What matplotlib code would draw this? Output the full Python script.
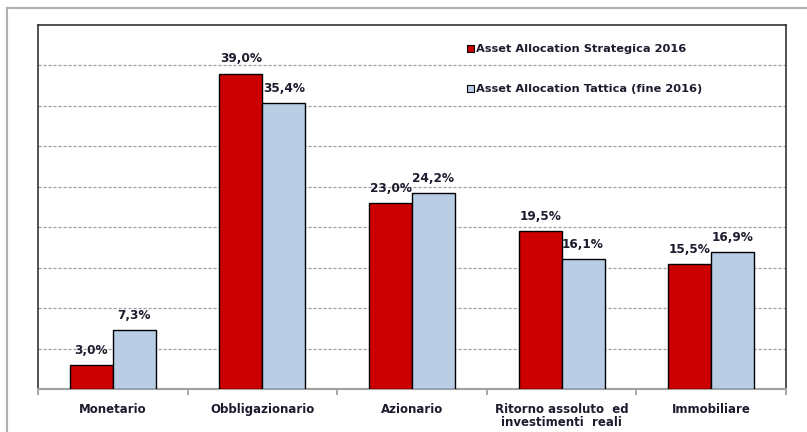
import matplotlib
matplotlib.use("Agg")
import matplotlib.pyplot as plt
from matplotlib.lines import Line2D
from matplotlib.patches import Patch
import numpy as np

categories = ["Monetario", "Obbligazionario", "Azionario",
              "Ritorno assoluto  ed\ninvestimenti  reali", "Immobiliare"]
strategica = [3.0, 39.0, 23.0, 19.5, 15.5]
tattica = [7.3, 35.4, 24.2, 16.1, 16.9]
series_names = ["Asset Allocation Strategica 2016", "Asset Allocation Tattica (fine 2016)"]

red = "#CC0000"
blue = "#B9CDE5"
txt = "#1c1c2e"
font = "DejaVu Sans"

fig = plt.figure(figsize=(8.07, 4.32), dpi=100)
ax = fig.add_axes([38/807, 1-389/432, (786-38)/807, (389-25)/432])

x = np.arange(len(categories))
w = 0.287
ax.bar(x - w/2, strategica, w, color=red, edgecolor="black", linewidth=1.0, zorder=3)
ax.bar(x + w/2, tattica, w, color=blue, edgecolor="black", linewidth=1.0, zorder=3)

def fmt(v):
    return f"{v:.1f}".replace(".", ",") + "%"

for xi, v in zip(x, strategica):
    ax.text(xi - w/2, v + 1.0, fmt(v), ha="center", va="bottom", fontsize=8.7,
            fontweight="bold", color=txt, family=font, zorder=4)
for xi, v in zip(x, tattica):
    ax.text(xi + w/2, v + 1.0, fmt(v), ha="center", va="bottom", fontsize=8.7,
            fontweight="bold", color=txt, family=font, zorder=4)

ax.set_xlim(-0.5, len(categories) - 0.5)
ax.set_ylim(0, 45)
ax.set_yticks(np.arange(5, 45, 5))
ax.yaxis.grid(True, linestyle=(0, (2.5, 1.5)), color="#A0A0A0", linewidth=0.9, zorder=0)
ax.tick_params(axis="y", length=0, labelleft=False)

ax.set_xticks(x)
ax.set_xticklabels(categories, fontsize=8.5, fontweight="bold", color=txt, family=font,
                   linespacing=1.05)
ax.tick_params(axis="x", which="major", length=0, pad=10)
ax.set_xticks(np.arange(-0.5, len(categories), 1.0), minor=True)
ax.tick_params(axis="x", which="minor", length=4, color="#999999", width=1.2, direction="out")

for s in ["left", "top", "right"]:
    ax.spines[s].set_color("#333333")
    ax.spines[s].set_linewidth(1.2)
ax.spines["bottom"].set_color("#A0A0A0")
ax.spines["bottom"].set_linewidth(1.5)

handles = [Patch(facecolor=red, edgecolor="black", linewidth=0.8),
           Patch(facecolor=blue, edgecolor="black", linewidth=0.8)]
leg = ax.legend(handles, series_names, loc="upper left", bbox_to_anchor=(0.56, 0.975),
                frameon=False, handlelength=0.6, handleheight=0.6, handletextpad=0.2,
                labelspacing=2.62, prop={"family": font, "weight": "bold", "size": 8.2})
for t in leg.get_texts():
    t.set_color(txt)

# outer frame lines
fig.add_artist(Line2D([7/807, 7/807], [0, 1-8/432], transform=fig.transFigure,
                      color="#B0B0B0", linewidth=1.5))
fig.add_artist(Line2D([7/807, 1], [1-8/432, 1-8/432], transform=fig.transFigure,
                      color="#B0B0B0", linewidth=1.5))

fig.savefig("out.png", dpi=100)
